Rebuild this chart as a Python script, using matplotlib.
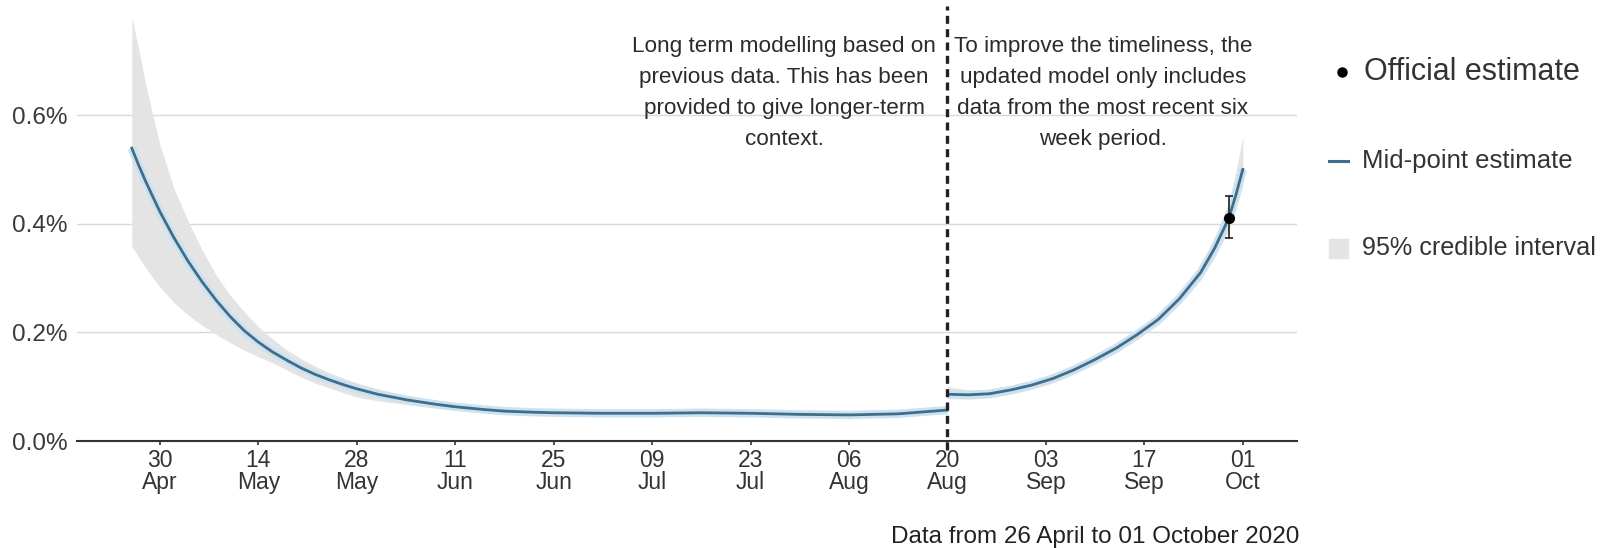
import matplotlib
matplotlib.use("Agg")
import matplotlib.pyplot as plt
from matplotlib.lines import Line2D
from matplotlib.patches import Rectangle
import pandas as pd

plt.rcParams['font.family'] = ['Liberation Sans', 'DejaVu Sans']

# ---- data (percent) ----
dates_a = ["2020-04-26", "2020-04-27", "2020-04-28", "2020-04-30", "2020-05-02", "2020-05-04",
           "2020-05-06", "2020-05-08", "2020-05-10", "2020-05-12", "2020-05-14",
           "2020-05-16", "2020-05-18", "2020-05-20", "2020-05-22", "2020-05-24",
           "2020-05-26", "2020-05-28", "2020-05-31", "2020-06-04", "2020-06-08",
           "2020-06-11", "2020-06-15", "2020-06-18", "2020-06-22", "2020-06-25",
           "2020-07-02", "2020-07-09", "2020-07-16", "2020-07-23", "2020-07-30",
           "2020-08-06", "2020-08-13", "2020-08-20"]
mid_a = [0.539, 0.507, 0.477, 0.422, 0.374, 0.331, 0.293, 0.259, 0.229, 0.203, 0.182,
         0.164, 0.149, 0.135, 0.123, 0.113, 0.104, 0.096, 0.086, 0.076, 0.068,
         0.063, 0.058, 0.055, 0.053, 0.052, 0.051, 0.051, 0.052, 0.051, 0.049,
         0.048, 0.050, 0.057]
upper_a = [0.780, 0.720, 0.655, 0.545, 0.465, 0.405, 0.352, 0.305, 0.268, 0.238, 0.210,
           0.188, 0.168, 0.152, 0.138, 0.126, 0.116, 0.107, 0.096, 0.084, 0.075,
           0.070, 0.065, 0.062, 0.060, 0.059, 0.058, 0.058, 0.060, 0.058, 0.056,
           0.055, 0.057, 0.063]
lower_a = [0.359, 0.338, 0.318, 0.283, 0.255, 0.232, 0.213, 0.196, 0.181, 0.167, 0.155,
           0.144, 0.131, 0.118, 0.107, 0.098, 0.089, 0.081, 0.074, 0.067, 0.061,
           0.057, 0.053, 0.050, 0.048, 0.047, 0.046, 0.046, 0.047, 0.046, 0.044,
           0.043, 0.045, 0.051]

dates_b = ["2020-08-20", "2020-08-23", "2020-08-26", "2020-08-29", "2020-09-01", "2020-09-04",
           "2020-09-07", "2020-09-10", "2020-09-13", "2020-09-16", "2020-09-19",
           "2020-09-22", "2020-09-25", "2020-09-27", "2020-09-29", "2020-09-30", "2020-10-01"]
mid_b = [0.086, 0.085, 0.087, 0.094, 0.103, 0.115, 0.131, 0.150, 0.171, 0.196, 0.224,
         0.262, 0.310, 0.355, 0.410, 0.452, 0.500]
upper_b = [0.100, 0.094, 0.095, 0.102, 0.111, 0.123, 0.139, 0.158, 0.180, 0.205, 0.234,
           0.273, 0.324, 0.374, 0.440, 0.495, 0.560]
lower_b = [0.078, 0.077, 0.079, 0.086, 0.095, 0.107, 0.123, 0.142, 0.162, 0.187, 0.214,
           0.251, 0.296, 0.338, 0.388, 0.425, 0.470]

official_date = "2020-09-29"
official_value = 0.411
official_low = 0.373
official_high = 0.451

tick_dates = ["2020-04-30", "2020-05-14", "2020-05-28", "2020-06-11", "2020-06-25",
              "2020-07-09", "2020-07-23", "2020-08-06", "2020-08-20", "2020-09-03",
              "2020-09-17", "2020-10-01"]
tick_labels = ["30\nApr", "14\nMay", "28\nMay", "11\nJun", "25\nJun", "09\nJul",
               "23\nJul", "06\nAug", "20\nAug", "03\nSep", "17\nSep", "01\nOct"]
y_ticks = [0.0, 0.2, 0.4, 0.6]
y_labels = ["0.0%", "0.2%", "0.4%", "0.6%"]
split_date = "2020-08-20"

text_left = "Long term modelling based on\nprevious data. This has been\nprovided to give longer-term\ncontext."
text_right = "To improve the timeliness, the\nupdated model only includes\ndata from the most recent six\nweek period."
footnote = "Data from 26 April to 01 October 2020"

# ---- figure ----
W, H = 1602, 548
fig = plt.figure(figsize=(W / 100, H / 100), dpi=100)
fig.patch.set_facecolor("white")

def fx(px):
    return px / W

def fy(py):
    return 1 - py / H

px_per_pct = 543.3
ax_left, ax_right, ax_top, ax_bot = 77, 1297, 6, 441
ax = fig.add_axes([fx(ax_left), fy(ax_bot), fx(ax_right - ax_left), (ax_bot - ax_top) / H])

da = pd.to_datetime(dates_a)
db = pd.to_datetime(dates_b)

band_col = "#e4e4e4"
halo_col = "#cde2f0"
line_col = "#3f6d8a"

ax.fill_between(da, lower_a, upper_a, color=band_col, lw=0, zorder=1)
ax.fill_between(db, lower_b, upper_b, color=band_col, lw=0, zorder=1)
ax.plot(da, mid_a, color=halo_col, lw=6, solid_capstyle='butt', zorder=2)
ax.plot(db, mid_b, color=halo_col, lw=6, solid_capstyle='butt', zorder=2)
ax.plot(da, mid_a, color=line_col, lw=2.0, zorder=3)
ax.plot(db, mid_b, color=line_col, lw=2.0, zorder=3)

od = pd.to_datetime(official_date)
ax.errorbar([od], [official_value],
            yerr=[[official_value - official_low], [official_high - official_value]],
            fmt='o', color='black', ms=7, ecolor='#222222', elinewidth=1.2, capsize=3,
            capthick=1.2, zorder=5)

sd = pd.to_datetime(split_date)
ax.axvline(sd, color='#222222', lw=2.4, ls=(0, (2.4, 1.6)), ymin=-0.02, ymax=1,
           clip_on=False, zorder=4)

ax.set_xlim(pd.to_datetime("2020-04-18 05:00"), pd.to_datetime("2020-10-08 17:00"))
ax.set_ylim(0, (ax_bot - ax_top) / px_per_pct)

ax.set_yticks(y_ticks)
ax.set_yticklabels(y_labels)
ax.yaxis.grid(True, color='#d9d9d9', lw=1)
ax.set_axisbelow(True)
ax.tick_params(axis='y', length=0, pad=7, labelsize=17.5, labelcolor='#3a3a3a')

ax.set_xticks(pd.to_datetime(tick_dates))
ax.set_xticklabels(tick_labels)
ax.tick_params(axis='x', length=3, width=1.2, color='#333333', pad=3, labelsize=16.5,
               labelcolor='#333333')
for lab in ax.get_xticklabels():
    lab.set_linespacing(0.95)

for s in ['top', 'right', 'left']:
    ax.spines[s].set_visible(False)
ax.spines['bottom'].set_color('#333333')
ax.spines['bottom'].set_linewidth(1.5)

# annotations
fig.text(fx(784), fy(93), text_left, ha='center', va='center', fontsize=16.2,
         color='#2b2b2b', linespacing=1.64)
fig.text(fx(1103), fy(93), text_right, ha='center', va='center', fontsize=16.2,
         color='#2b2b2b', linespacing=1.64)

fig.text(fx(1299), fy(537), footnote, ha='right', va='center', fontsize=17.5, color='#222222')

# legend (manual)
leg_col = '#333333'
fig.lines.append(Line2D([fx(1342)], [fy(72)], marker='o', ms=6.5, color='black',
                        transform=fig.transFigure))
fig.text(fx(1364), fy(72), "Official estimate", ha='left', va='center', fontsize=22, color=leg_col)
fig.lines.append(Line2D([fx(1329), fx(1348)], [fy(161), fy(161)], color=line_col, lw=2.2,
                        transform=fig.transFigure))
fig.text(fx(1362), fy(161), "Mid-point estimate", ha='left', va='center', fontsize=18.5, color=leg_col)
fig.patches.append(Rectangle((fx(1329), fy(258)), fx(19), 19 / H, color=band_col,
                             transform=fig.transFigure))
fig.text(fx(1362), fy(248), "95% credible interval", ha='left', va='center', fontsize=18.1, color=leg_col)

fig.savefig("out.png", dpi=100, facecolor='white')
